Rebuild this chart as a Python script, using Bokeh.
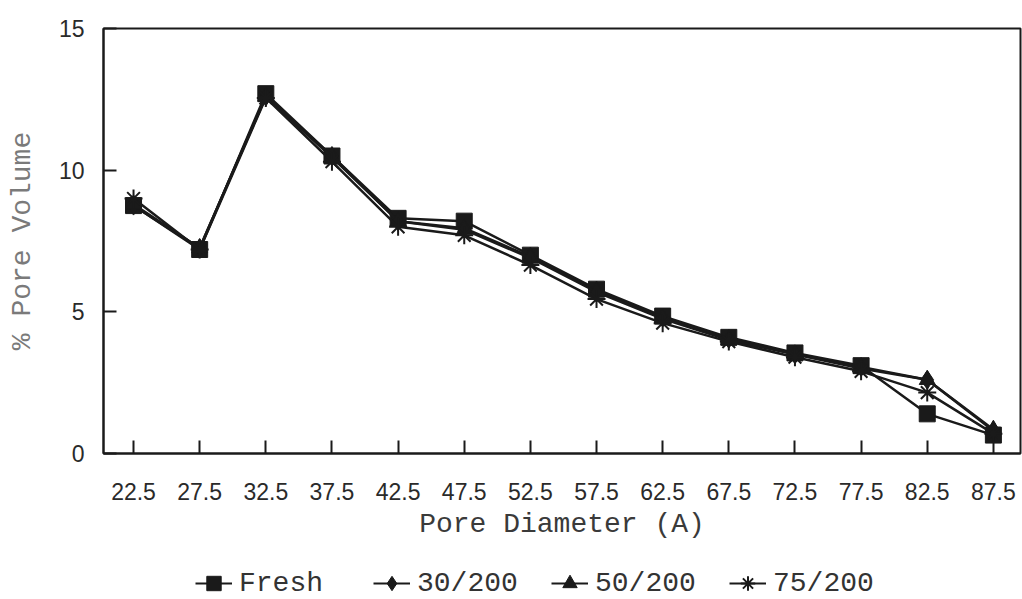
from bokeh.plotting import figure
from bokeh.models import Range1d, FixedTicker, Legend, LegendItem
from bokeh.layouts import column
from bokeh.embed import file_html
from bokeh.resources import INLINE

# Pore size distribution: % of pore volume per pore-diameter bin
pore_diameter = [22.5, 27.5, 32.5, 37.5, 42.5, 47.5, 52.5, 57.5, 62.5, 67.5, 72.5, 77.5, 82.5, 87.5]
fresh     = [8.75, 7.2, 12.7, 10.5, 8.3, 8.2, 7.0, 5.8, 4.85, 4.1, 3.55, 3.1, 1.4, 0.65]
s_30_200  = [8.75, 7.25, 12.6, 10.5, 8.2, 7.95, 6.95, 5.75, 4.8, 4.05, 3.5, 3.05, 2.6, 0.8]
s_50_200  = [8.8, 7.25, 12.6, 10.45, 8.2, 7.9, 6.9, 5.7, 4.75, 4.0, 3.5, 3.0, 2.6, 0.85]
s_75_200  = [9.0, 7.2, 12.55, 10.3, 8.0, 7.7, 6.65, 5.45, 4.6, 3.95, 3.4, 2.9, 2.15, 0.7]

series_names = ["Fresh", "30/200", "50/200", "75/200"]
series_markers = ["square", "diamond", "triangle", "asterisk"]
series_sizes = [16, 19, 16, 18]
y_ticks = [0, 5, 10, 15]

INK = "#1a1a1a"
MONO = "Liberation Mono"

p = figure(frame_width=917, frame_height=425, output_backend="svg", toolbar_location=None,
           x_range=Range1d(20.23, 89.55), y_range=Range1d(0, 15),
           min_border_left=103, min_border_top=28, min_border_right=2,
           min_border_bottom=100)
p.background_fill_color = "white"
p.border_fill_color = "white"
p.outline_line_color = INK
p.outline_line_width = 2
p.xgrid.visible = False
p.ygrid.visible = False

for ax in (p.xaxis, p.yaxis):
    ax.axis_line_color = INK
    ax.axis_line_width = 2
    ax.major_tick_line_color = INK
    ax.major_tick_line_width = 2
    ax.major_tick_in = 13
    ax.major_tick_out = 0
    ax.minor_tick_line_color = None
    ax.major_label_text_font = "Liberation Sans"
    ax.major_label_text_font_size = "23px"
    ax.major_label_text_color = "#2a2a2a"
    ax.axis_label_text_font = MONO
    ax.axis_label_text_font_style = "normal"
    ax.axis_label_text_font_size = "28px"

p.xaxis.ticker = FixedTicker(ticks=pore_diameter)
p.xaxis.major_label_overrides = {v: f"{v:.1f}" for v in pore_diameter}
p.xaxis.major_label_standoff = 29
p.xaxis.axis_label = "Pore Diameter (A)"
p.xaxis.axis_label_text_color = "#3a3a3a"
p.xaxis.axis_label_standoff = 6

p.yaxis.ticker = FixedTicker(ticks=y_ticks)
p.yaxis.major_label_standoff = 19
p.yaxis.axis_label = "% Pore Volume"
p.yaxis.axis_label_text_color = "#7a7a7a"
p.yaxis.axis_label_standoff = 18

values = [fresh, s_30_200, s_50_200, s_75_200]
for name, ys, mk, sz in zip(series_names, values, series_markers, series_sizes):
    p.line(pore_diameter, ys, line_color=INK, line_width=2.5)
    p.scatter(pore_diameter, ys, marker=mk, size=sz, fill_color=INK,
              line_color=INK, line_width=2 if mk == "asterisk" else 1)

# Legend strip underneath the chart; its renderers carry the same series but
# the strip's ranges keep them out of view, so only the legend keys show.
leg = figure(width=1022, height=60, output_backend="svg", toolbar_location=None,
             min_border=0, x_range=Range1d(0, 1), y_range=Range1d(-2, -1))
leg.axis.visible = False
leg.grid.visible = False
leg.outline_line_color = None
leg.background_fill_color = "white"
leg.border_fill_color = "white"

items = []
for name, ys, mk in zip(series_names, values, series_markers):
    ln = leg.line(pore_diameter, ys, line_color=INK, line_width=2)
    sc = leg.scatter(pore_diameter, ys, marker=mk, fill_color=INK,
                     line_color=INK, line_width=2 if mk == "asterisk" else 1)
    items.append(LegendItem(label=name, renderers=[ln, sc]))

legend = Legend(items=items, orientation="horizontal", location=(92, 12),
                label_text_font=MONO, label_text_font_size="28px",
                label_text_color="#333333", glyph_width=37, glyph_height=36,
                label_width=108, spacing=26, label_standoff=7, padding=0, margin=0,
                border_line_color=None, background_fill_alpha=0)
leg.add_layout(legend, "center")

layout = column(p, leg, spacing=0)
open("out.html", "w").write(file_html(layout, INLINE))
